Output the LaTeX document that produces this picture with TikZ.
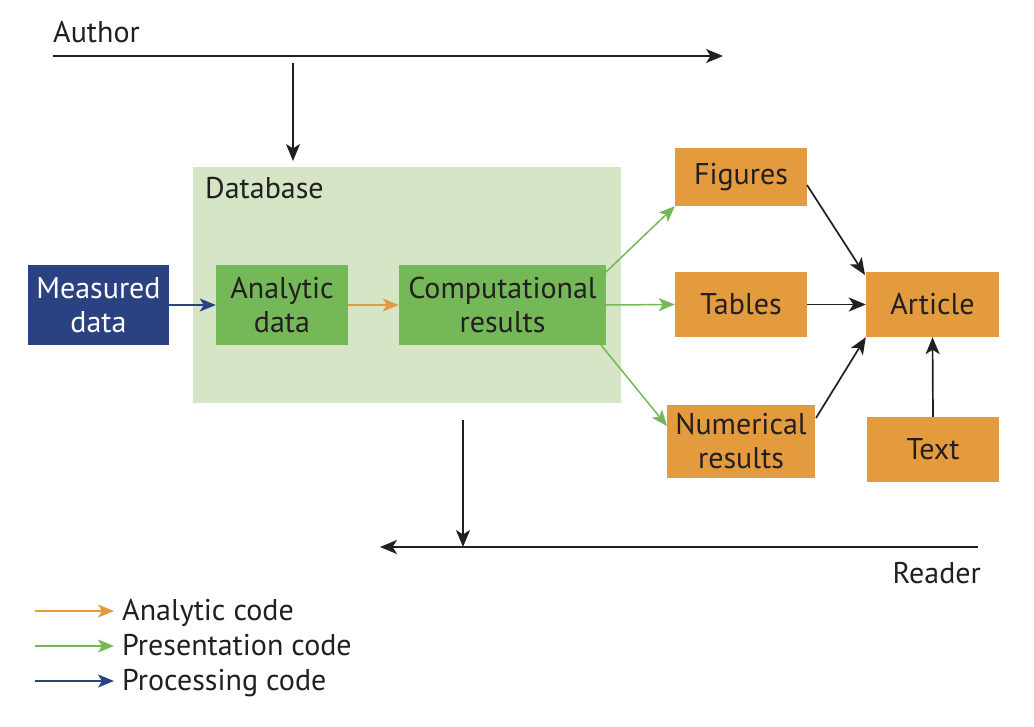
\documentclass[tikz,border=0pt]{standalone}
\usepackage{fontspec}
\setmainfont{PT Sans}
\usetikzlibrary{arrows.meta}
\definecolor{dbbg}{HTML}{D5E5C6}
\definecolor{grn}{HTML}{74B857}
\definecolor{org}{HTML}{E49B3E}
\definecolor{blu}{HTML}{2B4282}
\definecolor{ink}{HTML}{231F20}
\begin{document}
\begin{tikzpicture}[x=1pt,y=-1pt,
  every node/.style={font=\fontsize{30}{34}\selectfont, text=ink, align=center, inner sep=0pt},
  box/.style={rectangle, draw=none},
  obox/.style={box, fill=org},
  gbox/.style={box, fill=grn},
  blk/.style={draw=ink, line width=1.7pt, -{Stealth[length=17pt,width=14pt,inset=4.5pt]}},
  col/.style={line width=1.5pt, -{Stealth[length=16pt,width=13pt,inset=4pt]}}
]
\useasboundingbox (0,0) rectangle (1034,726);
% database background
\fill[dbbg] (193,167) rectangle (621,403);
\node[anchor=base west] (dblab) at (205,198) {Database};
% nodes
\node[box, fill=blu, text=white, minimum width=141pt, minimum height=80pt] (meas) at (98.5,305) {Measured\\data};
\node[gbox, minimum width=132pt, minimum height=80pt] (ana) at (282,305) {Analytic\\data};
\node[gbox, minimum width=207pt, minimum height=80pt] (comp) at (502.5,305) {Computational\\results};
\node[obox, minimum width=132pt, minimum height=58pt] (fig) at (741,177) {Figures};
\node[obox, minimum width=132pt, minimum height=65pt] (tab) at (741,304.5) {Tables};
\node[obox, minimum width=148pt, minimum height=73pt] (num) at (741,441.5) {Numerical\\results};
\node[obox, minimum width=133pt, minimum height=65pt] (art) at (932.5,304.5) {Article};
\node[obox, minimum width=132pt, minimum height=65pt] (txt) at (933,449.5) {Text};
% author / reader
\node[anchor=base west] (author) at (53,42) {Author};
\coordinate (aL) at (53,56);
\coordinate (aR) at (723,56);
\draw[blk] (aL) -- (aR);
\coordinate (a1) at (293,63);
\coordinate (a2) at (293,161);
\draw[blk] (a1) -- (a2);
\coordinate (d1) at (463,420);
\coordinate (d2) at (463,547);
\draw[blk] (d1) -- (d2);
\coordinate (rR) at (978,547);
\coordinate (rL) at (380,547);
\draw[blk] (rR) -- (rL);
\node[anchor=base east] (reader) at (981,583) {Reader};
% flows
\draw[col, blu] (meas.east) -- (ana.west);
\draw[col, org] (ana.east) -- (comp.west);
\draw[col, grn] (606,272) -- (fig.south west);
\draw[col, grn] (comp.east) -- (tab.west);
\draw[col, grn] (601,345) -- (667,426);
\draw[blk] (807,185) -- (865,275);
\draw[blk] (tab.east) -- (art.west);
\draw[blk] (816,418) -- (art.south west);
\draw[blk] (txt.north) -- (art.south);
% legend
\coordinate (l1a) at (35,611); \coordinate (l1b) at (114,611);
\coordinate (l2a) at (35,646); \coordinate (l2b) at (114,646);
\coordinate (l3a) at (35,681); \coordinate (l3b) at (114,681);
\draw[col, org] (l1a) -- (l1b);
\draw[col, grn] (l2a) -- (l2b);
\draw[col, blu] (l3a) -- (l3b);
\node[anchor=base west] (lg1) at (122,620) {Analytic code};
\node[anchor=base west] (lg2) at (122,655) {Presentation code};
\node[anchor=base west] (lg3) at (122,690) {Processing code};
\end{tikzpicture}
\end{document}
